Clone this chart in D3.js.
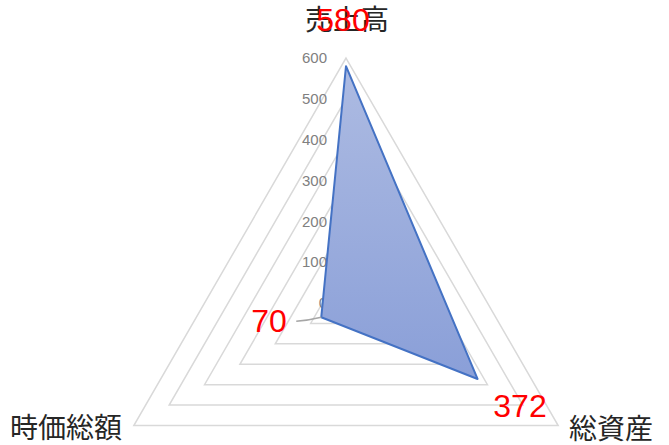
<!DOCTYPE html>
<html><head><meta charset="utf-8">
<script src="https://cdn.jsdelivr.net/npm/d3@7"></script>
<style>html,body{margin:0;padding:0;background:#fff;}svg{display:block;}</style>
</head><body><svg id="c" width="669" height="445"></svg>
<script>
const categories = ["売上高", "総資産", "時価総額"];
const values = [580, 372, 70];
const tickValues = [0, 100, 200, 300, 400, 500, 600];

const W = 669, H = 445;
const cx = 346, cy = 303, R = 245;
const svg = d3.select("#c");
const r = d3.scaleLinear().domain([0, 600]).range([0, R]);
const ang = d3.scaleOrdinal().domain(categories).range([0, 2*Math.PI/3, 4*Math.PI/3]);
const pt = (cat, v) => [cx + r(v)*Math.sin(ang(cat)), cy - r(v)*Math.cos(ang(cat))];

const defs = svg.append("defs");
const g = defs.append("linearGradient").attr("id","fillg").attr("x1",0).attr("y1",0).attr("x2",0).attr("y2",1);
g.append("stop").attr("offset","0%").attr("stop-color","#adbbe2");
g.append("stop").attr("offset","100%").attr("stop-color","#8a9fd8");

// grid
const line = d3.line().curve(d3.curveLinearClosed);
svg.append("g").selectAll("path").data(tickValues.filter(t => t > 0)).join("path")
  .attr("d", t => line(categories.map(c => pt(c, t))))
  .attr("fill","none").attr("stroke","#d9d9d9").attr("stroke-width",1.5);

// tick labels
svg.append("g").selectAll("text").data(tickValues).join("text")
  .attr("x", cx - 19).attr("y", t => cy - r(t)).attr("dy","0.35em")
  .attr("text-anchor","end").attr("font-family","Liberation Sans, Arial, sans-serif")
  .attr("font-size", 15).attr("fill","#808080").text(t => t);

// data polygon
svg.append("path")
  .attr("d", line(categories.map((c,i) => pt(c, values[i]))))
  .attr("fill","url(#fillg)").attr("stroke","#4472c4").attr("stroke-width",2).attr("stroke-linejoin","round");

// category labels
const catPos = [[347, 20], [611, 429], [66, 428]];
svg.append("g").selectAll("text").data(categories).join("text")
  .attr("x", (d,i) => catPos[i][0]).attr("y", (d,i) => catPos[i][1]).attr("dy","0.36em")
  .attr("text-anchor","middle").attr("font-family","Noto Sans CJK JP, sans-serif")
  .attr("font-size", 28).attr("fill","#262626").text(d => d);

// leader line for small value
const p70 = pt(categories[2], values[2]);
svg.append("path")
  .attr("d", `M${p70[0]-25},${p70[1]+4} Q${p70[0]-12},${p70[1]+3} ${p70[0]},${p70[1]}`)
  .attr("fill","none").attr("stroke","#a6a6a6").attr("stroke-width",1.5);

// data labels
const labPos = [[343, 19], [520, 405], [269, 320]];
svg.append("g").selectAll("text").data(values).join("text")
  .attr("x", (d,i) => labPos[i][0]).attr("y", (d,i) => labPos[i][1]).attr("dy","0.36em")
  .attr("text-anchor","middle").attr("font-family","Liberation Sans, Arial, sans-serif")
  .attr("font-size", 32).attr("fill","#ff0000").text(d => d);
</script></body></html>
